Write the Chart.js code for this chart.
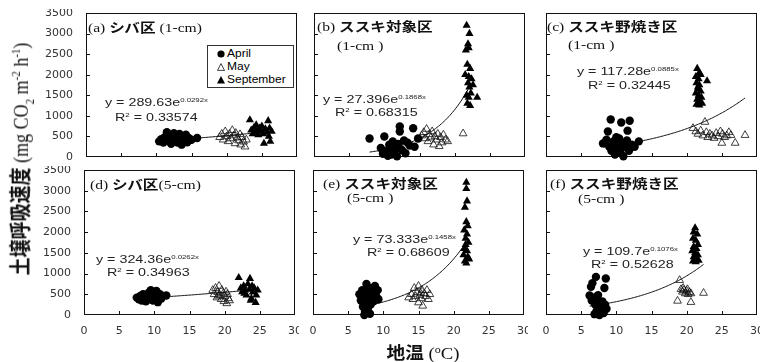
<!DOCTYPE html>
<html>
<head>
<meta charset="utf-8">
<script src="https://cdn.jsdelivr.net/npm/chart.js@4"></script>
<style>
body { margin: 0; background: #fff; }
#wrap { position: relative; width: 760px; height: 362px; overflow: hidden; background: #fff; }
canvas { position: absolute; }
.t { position: absolute; white-space: nowrap; transform-origin: 0 0; color: #111; }
.ttl { font-family: "Liberation Serif", serif; font-size: 13px; line-height: 16px; transform: scaleX(1.2); }
.jp { font-family: "Noto Sans CJK JP", sans-serif; font-weight: 700; }
.eq { font-family: "Liberation Sans", Arial, sans-serif; font-size: 11px; line-height: 13px; transform: scaleX(1.3); color: #222; }
.eq sup { font-size: 6px; vertical-align: 4px; line-height: 0; }
.leg { position: absolute; left: 207px; top: 45px; width: 85px; height: 41px; border: 1px solid #333; background: #fff; }
.lrow { position: absolute; left: 0; height: 14px; font-family: "Liberation Sans", Arial, sans-serif; font-size: 10px; line-height: 14px; }
.lrow svg { position: absolute; left: 9px; top: 3px; }
.lrow span { position: absolute; left: 19px; top: 0; transform: scaleX(1.2); transform-origin: 0 0; white-space: nowrap; }
</style>
</head>
<body>
<div id="wrap"></div>
<script>
// x: soil temperature (oC), y: soil respiration (mg CO2 m-2 h-1)
const xTicks = [0, 5, 10, 15, 20, 25, 30];
const yTicks = [0, 500, 1000, 1500, 2000, 2500, 3000, 3500];

// (a) シバ区 1-cm
const aApr = [[10.4,380],[10.7,430],[11.0,350],[11.2,480],[11.4,420],[11.5,600],[11.8,380],[12.0,500],[12.1,320],[12.3,450],[12.5,580],[12.6,400],[12.8,520],[13.0,350],[13.1,470],[13.3,560],[13.5,430],[13.6,300],[13.8,500],[14.0,410],[14.2,540],[14.4,360],[14.6,460],[15.0,420],[15.8,460]];
const aMay = [[19.0,480],[19.3,560],[19.5,420],[19.8,620],[20.0,500],[20.2,380],[20.4,560],[20.6,450],[20.8,650],[21.0,520],[21.2,330],[21.3,580],[21.5,470],[21.7,400],[21.9,550],[22.0,300],[22.2,480],[22.4,370],[22.6,250],[22.8,420]];
const aSep = [[23.3,900],[23.5,650],[23.7,560],[23.9,720],[24.0,600],[24.2,780],[24.4,650],[24.5,540],[24.7,700],[24.9,620],[25.0,750],[25.2,560],[25.3,330],[25.5,680],[25.7,600],[25.9,880],[26.0,500],[26.1,700],[26.2,380],[26.4,620]];
const fitA = [289.63, 0.0292];
const rangeA = [10.4, 26.4];

// (b) ススキ対象区 1-cm
const bApr = [[7.9,450],[9.5,220],[9.8,80],[10.0,500],[10.2,150],[10.5,30],[10.7,300],[10.9,200],[11.0,60],[11.2,380],[11.4,120],[11.6,250],[11.8,20],[12.0,320],[12.2,620],[12.2,740],[12.5,170],[12.8,400],[13.0,90],[13.3,350],[13.6,280],[14.1,700],[14.3,250],[14.8,450]];
const bMay = [[15.3,520],[15.6,600],[15.8,450],[16.0,680],[16.2,380],[16.4,550],[16.6,470],[16.8,620],[17.0,300],[17.2,500],[17.4,420],[17.6,560],[17.8,260],[18.0,480],[18.2,350],[18.4,540],[18.7,420],[19.0,380],[21.2,570]];
const bSep = [[21.7,3200],[22.1,3000],[21.9,2750],[21.6,2600],[22.0,2650],[21.8,2250],[22.2,2150],[21.5,2000],[22.0,1950],[22.4,1900],[21.9,1800],[22.1,1700],[22.6,1750],[21.7,1500],[22.0,1450],[23.2,1450],[21.8,1300],[22.2,1250],[22.3,1550]];
const fitB = [27.396, 0.1868];
const rangeB = [7.9, 22.4];

// (c) ススキ野焼き区 1-cm
const cApr = [[9.2,910],[10.7,840],[11.9,880],[8.8,620],[11.6,640],[8.1,330],[8.6,420],[9.0,250],[9.3,150],[9.6,380],[9.8,60],[10.0,300],[10.2,200],[10.4,450],[10.6,100],[10.8,330],[11.0,20],[11.2,250],[11.5,400],[11.8,150],[12.2,300],[12.6,250],[13.2,380],[10.0,480]];
const cMay = [[20.9,700],[21.3,620],[21.6,560],[22.0,640],[22.3,520],[22.6,850],[22.8,600],[23.0,480],[23.3,560],[23.6,520],[23.9,460],[24.2,580],[24.5,500],[24.8,620],[25.0,340],[25.1,560],[25.4,480],[25.7,520],[26.0,600],[26.3,530],[26.9,340],[28.3,530]];
const cSep = [[21.5,2150],[21.8,2050],[21.3,1950],[21.7,1900],[22.0,2000],[22.9,1850],[21.4,1800],[21.8,1750],[21.6,1650],[22.0,1600],[21.3,1550],[21.7,1500],[22.1,1450],[21.5,1400],[21.9,1350],[21.4,1280],[21.8,1260],[22.2,1300],[21.6,1700]];
const fitC = [117.28, 0.0885];
const rangeC = [8.1, 28.3];

// (d) シバ区 5-cm
const dApr = [[7.5,420],[7.8,380],[8.0,460],[8.2,350],[8.4,500],[8.6,400],[8.8,330],[9.0,450],[9.2,540],[9.3,380],[9.5,600],[9.6,470],[9.8,350],[10.0,520],[10.1,420],[10.3,580],[10.5,310],[10.6,450],[10.8,500],[11.0,400],[11.7,470]];
const dMay = [[18.3,600],[18.5,500],[18.7,650],[18.9,420],[19.0,550],[19.2,700],[19.3,480],[19.5,380],[19.6,600],[19.8,520],[19.9,330],[20.0,450],[20.2,560],[20.3,280],[20.5,400],[20.7,350],[20.4,500],[19.1,460]];
const dSep = [[22.0,900],[22.3,650],[22.5,560],[22.7,700],[22.9,600],[23.1,480],[23.3,750],[23.5,620],[23.6,880],[23.8,400],[23.9,700],[24.0,550],[24.2,650],[24.4,300],[24.5,480],[24.7,600],[23.7,350],[22.8,520]];
const fitD = [324.36, 0.0262];
const rangeD = [7.5, 24.7];

// (e) ススキ対象区 5-cm
const eApr = [[6.6,500],[6.8,350],[7.0,600],[7.1,200],[7.2,420],[7.4,80],[7.5,300],[7.6,750],[7.7,520],[7.8,150],[7.9,380],[8.0,650],[8.1,30],[8.2,250],[8.3,470],[8.5,560],[8.6,330],[8.8,700],[9.0,450],[9.2,600],[9.3,380],[7.3,0],[7.9,620]];
const eMay = [[13.6,420],[14.0,500],[14.2,380],[14.4,650],[14.6,450],[14.8,550],[15.0,300],[15.0,700],[15.2,480],[15.4,400],[15.5,600],[15.6,220],[15.8,520],[16.0,450],[16.2,600],[16.4,380],[16.6,500],[15.3,520]];
const eSep = [[21.8,3200],[21.8,3050],[21.9,2750],[21.6,2600],[21.8,2250],[22.0,2150],[21.5,2050],[21.9,1950],[21.7,1850],[22.1,1750],[21.5,1600],[21.9,1550],[21.4,1450],[22.0,1400],[21.6,1300],[21.8,1250],[22.2,1350],[21.7,1700]];
const fitE = [73.333, 0.1458];
const rangeE = [6.6, 21.2];

// (f) ススキ野焼き区 5-cm
const fApr = [[7.1,920],[8.5,880],[6.6,770],[6.4,680],[8.3,650],[6.2,470],[6.5,350],[6.8,420],[7.0,250],[7.2,100],[7.3,380],[7.5,300],[7.6,0],[7.8,200],[8.0,330],[8.2,50],[8.4,250],[8.6,150],[6.9,20],[7.4,480]];
const fMay = [[19.0,840],[18.7,340],[20.6,310],[22.4,530],[19.2,620],[19.4,560],[19.6,600],[19.8,520],[20.0,580],[20.2,500],[20.4,550],[20.6,520],[19.5,650],[20.1,620]];
const fSep = [[21.2,2100],[21.0,2000],[21.5,1950],[20.9,1850],[21.3,1800],[21.6,1700],[21.0,1650],[21.4,1600],[20.8,1550],[21.2,1500],[21.6,1450],[21.0,1400],[21.4,1350],[20.9,1300],[21.3,1280],[21.7,1320]];
const fitF = [109.7, 0.1076];
const rangeF = [6.2, 22.4];

const wrap = document.getElementById('wrap');
const tickFont = { family: 'DejaVu Sans', size: 11 };

const toPts = arr => arr.map(p => ({ x: p[0], y: p[1] }));
// trend line from the fitted equation printed in each panel
function fitLine(fit, range) {
    const pts = [];
    for (let x = range[0]; x <= range[1] + 1e-9; x += 0.2) pts.push({ x: x, y: fit[0] * Math.exp(fit[1] * x) });
    return pts;
}

// box + inward tick marks
const frame = {
    id: 'frame',
    beforeDatasetsDraw(chart) {
        const { ctx, chartArea: a, scales } = chart;
        ctx.save();
        ctx.strokeStyle = '#111';
        ctx.lineWidth = 1;
        ctx.strokeRect(Math.round(a.left) + 0.5, Math.round(a.top) + 0.5, Math.round(a.right - a.left) - 1, Math.round(a.bottom - a.top) - 1);
        ctx.beginPath();
        xTicks.slice(1, -1).forEach(v => {
            const x = Math.round(scales.x.getPixelForValue(v)) + 0.5;
            ctx.moveTo(x, a.bottom);
            ctx.lineTo(x, a.bottom - 4);
        });
        yTicks.slice(1, -1).forEach(v => {
            const y = Math.round(scales.y.getPixelForValue(v)) + 0.5;
            ctx.moveTo(a.left, y);
            ctx.lineTo(a.left + 4, y);
        });
        ctx.stroke();
        ctx.restore();
    }
};

function noPad(s) {
    s.paddingTop = 0; s.paddingBottom = 0; s.paddingLeft = 0; s.paddingRight = 0;
}

function makePanel(p) {
    const padL = p.showY ? 50 : 4, padB = p.showX ? 24 : 4, padT = 4, padR = 4;
    const cv = document.createElement('canvas');
    cv.width = p.r - p.l + padL + padR;
    cv.height = p.b - p.t + padT + padB;
    cv.style.left = (p.l - padL) + 'px';
    cv.style.top = (p.t - padT) + 'px';
    wrap.appendChild(cv);
    new Chart(cv, {
        type: 'scatter',
        data: {
            datasets: [
                { label: 'April', data: toPts(p.apr), pointStyle: 'circle', pointRadius: 4.2, backgroundColor: '#000', borderColor: '#000', borderWidth: 0, clip: false },
                { label: 'May', data: toPts(p.may), pointStyle: 'triangle', pointRadius: 4.5, backgroundColor: 'rgba(255,255,255,0)', borderColor: '#111', borderWidth: 0.8, clip: false },
                { label: 'September', data: toPts(p.sep), pointStyle: 'triangle', pointRadius: 4.7, backgroundColor: '#000', borderColor: '#000', borderWidth: 0, clip: false },
                { type: 'line', data: fitLine(p.fit, p.range), showLine: true, borderColor: '#111', borderWidth: 1, pointRadius: 0, tension: 0, fill: false }
            ]
        },
        options: {
            responsive: false,
            animation: false,
            events: [],
            layout: { padding: { top: padT, right: padR, left: 0, bottom: 0 }, autoPadding: false },
            plugins: { legend: { display: false }, tooltip: { enabled: false } },
            scales: {
                x: {
                    type: 'linear', min: 0, max: 30,
                    grid: { display: false, drawTicks: false },
                    border: { display: false },
                    ticks: { display: p.showX, stepSize: 5, padding: 10, font: tickFont, color: '#333', maxRotation: 0, callback: v => String(v) },
                    afterFit(s) { s.height = padB; noPad(s); }
                },
                y: {
                    min: 0, max: 3500,
                    grid: { display: false, drawTicks: false },
                    border: { display: false },
                    ticks: { display: p.showY, stepSize: 500, padding: 13, font: tickFont, color: '#333', callback: v => String(v) },
                    afterFit(s) { s.width = padL; noPad(s); }
                }
            }
        },
        plugins: [frame]
    });
}

const panels = [
    { l: 86, t: 13, r: 297, b: 157, apr: aApr, may: aMay, sep: aSep, fit: fitA, range: rangeA, showX: false, showY: true },
    { l: 314, t: 13, r: 525, b: 157, apr: bApr, may: bMay, sep: bSep, fit: fitB, range: rangeB, showX: false, showY: false },
    { l: 546, t: 13, r: 757, b: 157, apr: cApr, may: cMay, sep: cSep, fit: fitC, range: rangeC, showX: false, showY: false },
    { l: 84, t: 170, r: 295, b: 315, apr: dApr, may: dMay, sep: dSep, fit: fitD, range: rangeD, showX: true, showY: true },
    { l: 313, t: 170, r: 524, b: 315, apr: eApr, may: eMay, sep: eSep, fit: fitE, range: rangeE, showX: true, showY: false },
    { l: 546, t: 170, r: 757, b: 315, apr: fApr, may: fMay, sep: fSep, fit: fitF, range: rangeF, showX: true, showY: false }
];
panels.forEach(makePanel);

// texts
function addText(cls, x, y, html, extra) {
    const d = document.createElement('div');
    d.className = 't ' + cls;
    d.style.left = x + 'px';
    d.style.top = y + 'px';
    if (extra) d.style.cssText += extra;
    d.innerHTML = html;
    wrap.appendChild(d);
}
const titles = [
    [88, 19, '(a) <span class="jp">シバ区</span> (1-cm)'],
    [317, 18, '(b) <span class="jp">ススキ対象区</span>'],
    [337, 38, '(1-cm )'],
    [547, 18, '(c) <span class="jp">ススキ野焼き区</span>'],
    [568, 37, '(1-cm )'],
    [90, 176, '(d) <span class="jp">シバ区</span>(5-cm)'],
    [323, 175, '(e) <span class="jp">ススキ対象区</span>'],
    [347, 190, '(5-cm )'],
    [550, 175, '(f) <span class="jp">ススキ野焼き区</span>'],
    [578, 191, '(5-cm )']
];
titles.forEach(t => addText('ttl', t[0], t[1], t[2]));

const eqs = [
    [105, 96, 'y = 289.63e<sup>0.0292x</sup>', 115, 111, '0.33574'],
    [323, 93, 'y = 27.396e<sup>0.1868x</sup>', 335, 106, '0.68315'],
    [577, 65, 'y = 117.28e<sup>0.0885x</sup>', 588, 79, '0.32445'],
    [96, 253, 'y = 324.36e<sup>0.0262x</sup>', 107, 266, '0.34963'],
    [353, 233, 'y = 73.333e<sup>0.1458x</sup>', 367, 246, '0.68609'],
    [583, 245, 'y = 109.7e<sup>0.1076x</sup>', 591, 258, '0.52628']
];
eqs.forEach(e => {
    addText('eq', e[0], e[1], e[2]);
    addText('eq', e[3], e[4], 'R<sup>2</sup> = ' + e[5]);
});

// legend in panel (a)
const leg = document.createElement('div');
leg.className = 'leg';
leg.innerHTML =
    '<div class="lrow" style="top:1px"><svg width="8" height="8"><circle cx="4" cy="4" r="3.6" fill="#000"/></svg><span>April</span></div>' +
    '<div class="lrow" style="top:14px"><svg width="8" height="8"><polygon points="4,0.6 7.5,7.4 0.5,7.4" fill="none" stroke="#111" stroke-width="0.8"/></svg><span>May</span></div>' +
    '<div class="lrow" style="top:27px"><svg width="8" height="8"><polygon points="4,0 8,7.6 0,7.6" fill="#000"/></svg><span>September</span></div>';
wrap.appendChild(leg);

// axis titles
addText('', 22, 159,
    '<span class="jp">土壌呼吸速度</span><span style="font-family:\'Liberation Serif\',serif"> (mg CO<sub style="font-size:11px">2</sub> m<sup style="font-size:11px">-2</sup> h<sup style="font-size:11px">-1</sup>)</span>',
    'font-size:18px;line-height:22px;transform-origin:50% 50%;transform:translate(-50%,-50%) rotate(-90deg) scaleY(1.2);');
addText('', 423, 351,
    '<span class="jp">地温</span><span style="font-family:\'Liberation Serif\',serif"> (<sup style="font-size:11px">o</sup>C)</span>',
    'font-size:17px;line-height:20px;transform-origin:50% 50%;transform:translate(-50%,-50%) scaleX(1.1);');
</script>
</body>
</html>
